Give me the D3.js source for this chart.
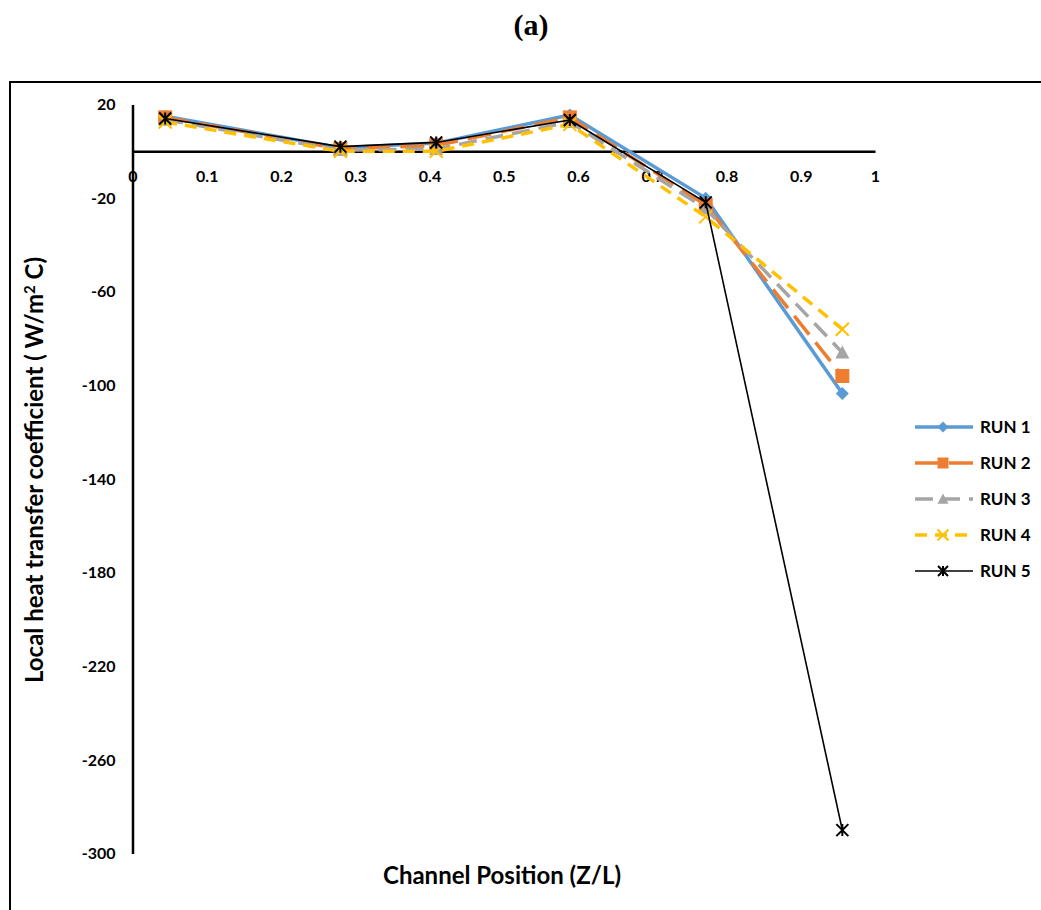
<!DOCTYPE html>
<html>
<head>
<meta charset="utf-8">
<script src="https://cdn.jsdelivr.net/npm/d3@7"></script>
<style>
  html, body { margin: 0; padding: 0; background: #fff; }
  svg { display: block; }
</style>
</head>
<body>
<svg id="chart" width="1041" height="910"></svg>
<script>
// Channel positions (Z/L) where the local coefficient was measured
const positions = [0.044, 0.28, 0.409, 0.589, 0.772, 0.956];

// Local heat transfer coefficient (W/m² C) per run
const run1 = [15, 1.5, 3.5, 15.5, -20, -103.5];
const run2 = [14.5, 1, 2.5, 14.5, -23, -96];
const run3 = [13.5, 0.5, 1, 12.5, -24.5, -86];
const run4 = [12.5, 0, 0, 11.5, -28, -76];
const run5 = [14, 2, 3.8, 13.4, -21.8, -290];

const runNames = ["RUN 1", "RUN 2", "RUN 3", "RUN 4", "RUN 5"];
const xTicks = [0, 0.1, 0.2, 0.3, 0.4, 0.5, 0.6, 0.7, 0.8, 0.9, 1];
const yTicks = [20, -20, -60, -100, -140, -180, -220, -260, -300];

const series = [
  { name: runNames[0], values: run1, color: "#5B9BD5", width: 3.5, dash: null, marker: "diamond", msize: 13 },
  { name: runNames[1], values: run2, color: "#ED7D31", width: 3.5, dash: "24,10", marker: "square", msize: 14 },
  { name: runNames[2], values: run3, color: "#A5A5A5", width: 3.5, dash: "18,9", marker: "triangle", msize: 14 },
  { name: runNames[3], values: run4, color: "#FFC000", width: 3.5, dash: "12,8", marker: "cross", msize: 13 },
  { name: runNames[4], values: run5, color: "#000000", width: 1.6, dash: null, marker: "star", msize: 12 }
];

const svg = d3.select("#chart");
const font = "Lato, 'Open Sans', sans-serif";

// Outer frame
svg.append("rect")
  .attr("x", 10).attr("y", 82)
  .attr("width", 1040).attr("height", 840)
  .attr("fill", "none").attr("stroke", "#000").attr("stroke-width", 2);

// Panel title
svg.append("text")
  .attr("x", 531).attr("y", 35)
  .attr("text-anchor", "middle")
  .attr("font-family", "'Liberation Serif', 'Times New Roman', serif")
  .attr("font-weight", "bold").attr("font-size", 30)
  .text("(a)");

const x = d3.scaleLinear().domain([0, 1]).range([132.5, 875]);
const y = d3.scaleLinear().domain([-300, 20]).range([853.5, 104.5]);

// Y axis (vertical line at x = 0)
const yAxis = svg.append("g")
  .attr("transform", `translate(${x(0)},0)`)
  .call(d3.axisLeft(y).tickValues(yTicks).tickSize(0).tickPadding(17).tickFormat(d => String(d)));
yAxis.select(".domain").attr("stroke", "#000").attr("stroke-width", 2.5);
yAxis.selectAll("text")
  .attr("font-family", font).attr("font-weight", "bold").attr("font-size", 16).attr("fill", "#000");

// X axis (horizontal line at y = 0)
const xAxis = svg.append("g")
  .attr("transform", `translate(0,${y(0)})`)
  .call(d3.axisBottom(x).tickValues(xTicks).tickSize(0).tickPadding(19)
    .tickFormat(d => d === 0 ? "0" : d === 1 ? "1" : d3.format(".1f")(d)));
xAxis.select(".domain").attr("stroke", "#000").attr("stroke-width", 2.5);
xAxis.selectAll("text")
  .attr("font-family", font).attr("font-weight", "bold").attr("font-size", 16).attr("fill", "#000");

// Axis titles
svg.append("text")
  .attr("x", 502).attr("y", 884)
  .attr("text-anchor", "middle")
  .attr("font-family", font).attr("font-weight", "bold").attr("font-size", 24)
  .text("Channel Position (Z/L)");

const yTitle = svg.append("text")
  .attr("transform", "translate(43,470) rotate(-90)")
  .attr("text-anchor", "middle")
  .attr("font-family", font).attr("font-weight", "bold").attr("font-size", 24);
yTitle.append("tspan").text("Local heat transfer coefficient ( W/m");
yTitle.append("tspan").attr("dy", -8).attr("font-size", 15).text("2");
yTitle.append("tspan").attr("dy", 8).text(" C)");

// Marker shapes
function markerPath(type, s) {
  const h = s / 2;
  switch (type) {
    case "diamond": return `M0,${-h}L${h},0L0,${h}L${-h},0Z`;
    case "square": return `M${-h},${-h}H${h}V${h}H${-h}Z`;
    case "triangle": return `M0,${-h}L${h},${h * 0.85}L${-h},${h * 0.85}Z`;
    case "cross": return `M${-h},${-h}L${h},${h}M${h},${-h}L${-h},${h}`;
    case "star": return `M${-h},${-h}L${h},${h}M${h},${-h}L${-h},${h}M0,${-h}V${h}`;
  }
}
function drawMarker(g, s, cx, cy, size) {
  const open = s.marker === "cross" || s.marker === "star";
  g.append("path")
    .attr("transform", `translate(${cx},${cy})`)
    .attr("d", markerPath(s.marker, size))
    .attr("fill", open ? "none" : s.color)
    .attr("stroke", s.color)
    .attr("stroke-width", open ? 2 : 0);
}

const line = d3.line().x(d => x(d[0])).y(d => y(d[1]));
const plot = svg.append("g");

series.forEach(s => {
  const pts = positions.map((p, i) => [p, s.values[i]]);
  const g = plot.append("g");
  g.append("path")
    .attr("d", line(pts))
    .attr("fill", "none")
    .attr("stroke", s.color)
    .attr("stroke-width", s.width)
    .attr("stroke-linejoin", "round")
    .attr("stroke-dasharray", s.dash);
  pts.forEach(d => drawMarker(g, s, x(d[0]), y(d[1]), s.msize));
});

// Legend
const legend = svg.append("g");
series.forEach((s, i) => {
  const ly = 427 + i * 36;
  const g = legend.append("g");
  g.append("line")
    .attr("x1", 915).attr("x2", 973)
    .attr("y1", ly).attr("y2", ly)
    .attr("stroke", s.color)
    .attr("stroke-width", s.width)
    .attr("stroke-dasharray", s.dash);
  drawMarker(g, s, 943, ly, s.marker === "star" ? 10 : 11);
  g.append("text")
    .attr("x", 980).attr("y", ly)
    .attr("dy", "0.35em")
    .attr("font-family", font).attr("font-weight", "bold").attr("font-size", 17)
    .text(s.name);
});
</script>
</body>
</html>
